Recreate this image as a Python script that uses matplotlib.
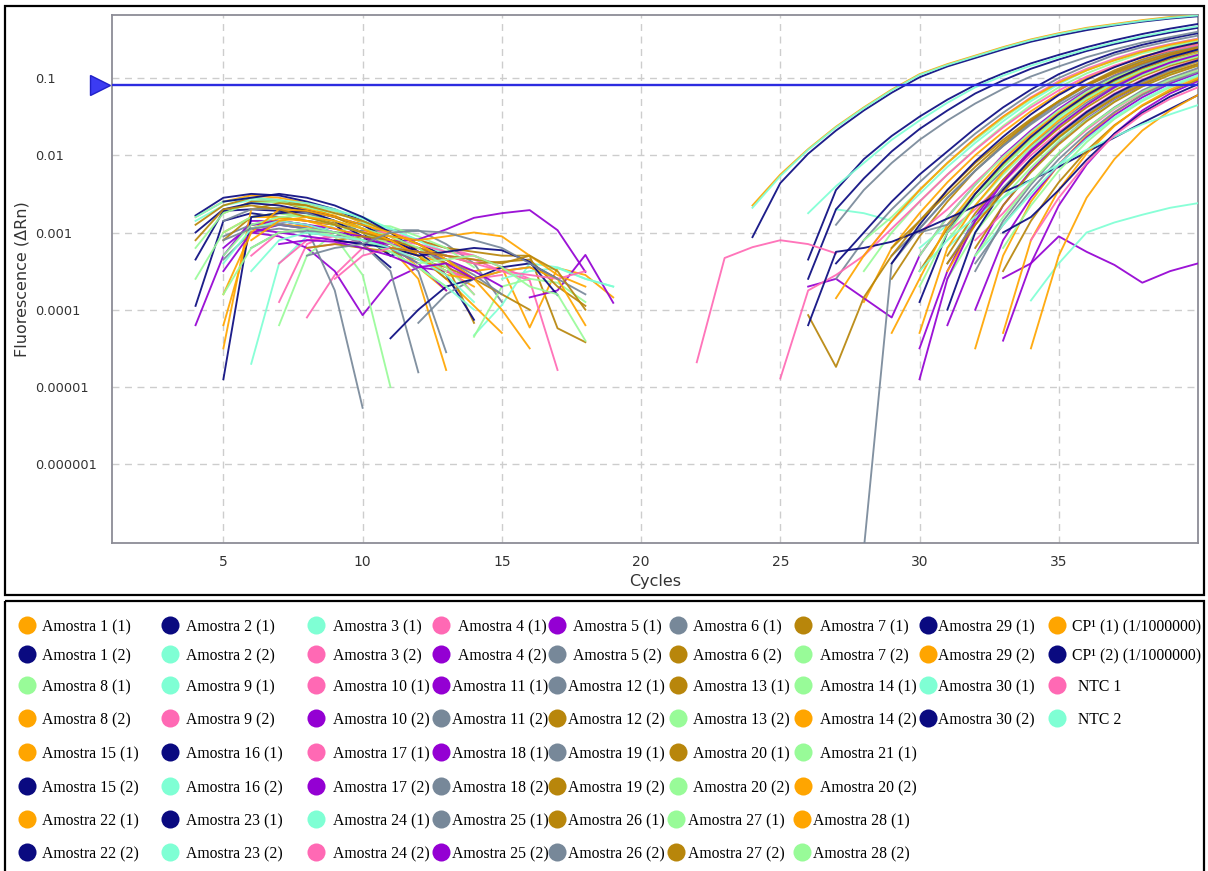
import numpy as np
import matplotlib
matplotlib.use("Agg")
import matplotlib.pyplot as plt
from matplotlib.patches import Rectangle
from matplotlib.ticker import NullLocator
from matplotlib.transforms import blended_transform_factory

# ---------------- data ----------------
cycles = np.arange(1, 41)
threshold = 0.081
x_ticks = [5, 10, 15, 20, 25, 30, 35]
y_ticks = [0.1, 0.01, 0.001, 0.0001, 0.00001, 0.000001]
y_tick_labels = ["0.1", "0.01", "0.001", "0.0001", "0.00001", "0.000001"]

legend_rows = [
    ["Amostra 1 (1)", "Amostra 2 (1)", "Amostra 3 (1)", "Amostra 4 (1)", "Amostra 5 (1)",
     "Amostra 6 (1)", "Amostra 7 (1)", "Amostra 29 (1)", "CP\u00b9 (1) (1/1000000)"],
    ["Amostra 1 (2)", "Amostra 2 (2)", "Amostra 3 (2)", "Amostra 4 (2)", "Amostra 5 (2)",
     "Amostra 6 (2)", "Amostra 7 (2)", "Amostra 29 (2)", "CP\u00b9 (2) (1/1000000)"],
    ["Amostra 8 (1)", "Amostra 9 (1)", "Amostra 10 (1)", "Amostra 11 (1)", "Amostra 12 (1)",
     "Amostra 13 (1)", "Amostra 14 (1)", "Amostra 30 (1)", "NTC 1"],
    ["Amostra 8 (2)", "Amostra 9 (2)", "Amostra 10 (2)", "Amostra 11 (2)", "Amostra 12 (2)",
     "Amostra 13 (2)", "Amostra 14 (2)", "Amostra 30 (2)", "NTC 2"],
    ["Amostra 15 (1)", "Amostra 16 (1)", "Amostra 17 (1)", "Amostra 18 (1)", "Amostra 19 (1)",
     "Amostra 20 (1)", "Amostra 21 (1)"],
    ["Amostra 15 (2)", "Amostra 16 (2)", "Amostra 17 (2)", "Amostra 18 (2)", "Amostra 19 (2)",
     "Amostra 20 (2)", "Amostra 20 (2)"],
    ["Amostra 22 (1)", "Amostra 23 (1)", "Amostra 24 (1)", "Amostra 25 (1)", "Amostra 26 (1)",
     "Amostra 27 (1)", "Amostra 28 (1)"],
    ["Amostra 22 (2)", "Amostra 23 (2)", "Amostra 24 (2)", "Amostra 25 (2)", "Amostra 26 (2)",
     "Amostra 27 (2)", "Amostra 28 (2)"],
]

# colour keys, same layout as legend_rows
O, N, T, P, V, G, D, L = "orange", "navy", "aqua", "pink", "violet", "gray", "gold", "green"
legend_color_keys = [
    [O, N, T, P, V, G, D, N, O],
    [N, T, P, V, G, D, L, O, N],
    [L, T, P, V, G, D, L, T, P],
    [O, P, V, G, D, L, O, N, T],
    [O, N, P, V, G, D, L],
    [N, T, V, G, D, L, O],
    [O, N, T, G, D, L, O],
    [N, T, P, V, G, D, L],
]

# log10(ΔRn), per trace (legend order), early noise part
early_start = [4, 4, 4, 7, 4, 5, 5, 4, None,
               4, 6, 8, 6, 5, 4, 4, 6, None,
               7, 14, 8, 16, 6, 6, 6, 4, None,
               5, 7, 6, 5, 5, 14, 5, 4, None,
               5, 5, 6, 5, 12, 8, 4,
               5, 15, 5, 6, 9, 5, 5,
               10, 11, 5, 5, 4, 5, 6,
               9, 6, 9, 7, 8, 11, 12]
early_log = [
    [-2.8, -2.6, -2.52, -2.55, -2.62, -2.72, -2.88, -3.05, -3.3, -3.5, -3.7],
    [-2.78, -2.55, -2.5, -2.52, -2.6, -2.7, -2.85, -3.0, -3.15, -3.3],
    [-2.85, -2.65, -2.58, -2.6, -2.65, -2.72, -2.8, -2.95, -3.1, -3.25],
    [-3.9, -3.15, -3.0, -2.98, -3.0, -3.1, -3.2, -3.3, -3.45],
    [-4.2, -3.3, -2.85, -2.85, -2.9, -2.95, -3.05, -3.1, -3.25, -3.4],
    [-3.35, -3.0, -2.95, -3.0, -3.05, -2.97, -2.97, -2.97, -3.15, -3.4, -3.9],
    [-2.75, -2.6, -2.6, -2.7, -2.8, -2.95, -3.05, -3.1, -3.2, -3.25, -3.3, -3.3, -4.24, -4.42],
    [-3.95, -2.85, -2.75, -2.8, -2.85, -2.9, -3.15, -3.45],
    [],
    [-3.35, -2.72, -2.7, -2.72, -2.75, -2.85, -3.0, -3.3, -3.2, -3.35],
    [-4.7, -3.4, -3.05, -2.9, -2.88, -2.95, -3.1, -3.3],
    [-4.1, -3.55, -3.2, -3.1, -3.15, -3.25, -3.3, -3.45, -3.6],
    [-3.0, -3.05, -3.2, -3.5, -4.07, -3.62, -3.45, -3.5, -3.6],
    [-3.05, -2.9, -2.88, -2.95, -3.75, -5.27],
    [-2.9, -2.65, -2.55, -2.58, -2.65, -2.8, -2.95, -3.1, -3.3, -3.5],
    [-3.2, -2.75, -2.62, -2.6, -2.68, -2.75, -2.85, -3.0],
    [-2.95, -2.9, -2.92, -3.0, -3.1, -3.2, -3.3, -3.4, -3.5, -3.45, -4.23, -3.46, -3.55, -3.84],
    [],
    [-4.2, -3.3, -3.0, -2.9, -2.92, -3.05, -3.2, -3.45],
    [-4.33, -3.94, -3.4, -3.45, -3.6, -3.7],
    [-3.2, -3.15, -3.1, -3.15, -3.2, -3.3, -3.35, -3.5, -3.62, -4.78],
    [-3.84, -3.75, -3.29, -3.91],
    [-2.9, -2.85, -2.9, -3.0, -3.15, -3.5, -4.81],
    [-2.7, -2.62, -2.65, -2.75, -2.85, -3.0, -3.15, -3.35, -3.6],
    [-2.95, -2.9, -2.95, -3.05, -3.55, -5.0],
    [-2.8, -2.6, -2.55, -2.58, -2.62, -2.7, -2.82, -2.95],
    [],
    [-4.5, -2.7, -2.68, -2.7, -2.78, -2.95, -3.1, -3.3, -3.6, -3.95, -4.3],
    [-3.4, -3.1, -3.05, -3.1, -3.15, -3.2, -3.4, -3.8],
    [-2.95, -3.0, -3.05, -3.1, -3.15, -3.12, -3.09, -2.96, -2.81, -2.75, -2.71, -2.97, -3.51],
    [-2.85, -2.7, -2.68, -2.75, -2.85, -3.0, -3.2, -3.5, -4.55],
    [-3.1, -2.8, -2.75, -2.8, -2.88, -3.0, -3.1, -3.2, -3.4, -4.17],
    [-4.35, -3.7, -3.6, -3.65, -3.9],
    [-4.2, -2.95, -2.82, -2.85, -2.9, -3.0, -3.15, -3.45, -3.75],
    [-3.0, -2.7, -2.62, -2.65, -2.72, -2.85, -3.05, -3.3],
    [],
    [-3.0, -2.8, -2.8, -2.85, -2.95, -3.05, -3.2, -3.6, -4.78],
    [-2.6, -2.55, -2.5, -2.55, -2.65, -2.8, -3.0, -3.25, -3.55, -4.13],
    [-3.3, -3.0, -2.95, -3.0, -3.1, -3.2, -3.35, -3.5, -3.6, -3.55],
    [-3.2, -2.9, -2.85, -2.9, -3.0, -3.1, -3.15, -3.25, -3.35, -3.5, -3.7],
    [-4.17, -3.8, -3.6, -3.5, -3.45, -3.6],
    [-3.2, -3.15, -3.2, -3.25, -3.35, -3.45, -3.6, -3.8, -4.0],
    [-3.6, -3.0, -2.8, -2.75, -2.8, -2.9, -3.0, -3.15, -3.3, -3.5],
    [-4.9, -2.8, -2.75, -2.72, -2.8, -2.9, -3.1, -3.25],
    [-3.6, -3.5, -3.46, -3.6, -3.7],
    [-3.5, -3.0, -2.9, -2.95, -3.0, -3.05, -3.2, -3.4, -3.75],
    [-3.2, -3.0, -2.98, -3.0, -3.1, -3.2, -3.25, -3.35, -3.55, -3.8],
    [-3.1, -3.05, -3.1, -3.2, -3.3, -3.4, -3.38, -3.35, -3.7, -3.95],
    [-3.3, -2.9, -2.8, -2.78, -2.85, -2.95, -3.05, -3.2, -3.45, -3.8],
    [-3.8, -3.0, -2.7, -2.72, -2.8, -2.9, -3.0, -3.15, -3.35, -3.6, -4.0, -4.5],
    [-3.0, -3.05, -3.1, -3.05, -3.0, -3.05, -3.3, -3.55, -3.7],
    [-4.37, -4.0, -3.7, -3.6, -3.45, -3.4, -3.6],
    [-3.4, -2.95, -2.85, -2.9, -3.0, -3.1, -3.25, -3.45, -3.7, -4.0],
    [-3.1, -2.95, -2.9, -2.95, -3.0, -3.1, -3.2, -3.4],
    [-3.1, -2.7, -2.65, -2.7, -2.8, -2.9, -3.0, -3.1, -3.3, -3.6],
    [-3.8, -3.2, -3.0, -2.95, -3.0, -3.1, -3.25, -3.45, -3.7],
    [-3.1, -2.85, -2.8, -2.85, -2.95, -3.1, -3.3, -3.55, -3.6, -3.5, -3.45, -3.6, -4.2],
    [-3.1, -3.15, -3.2, -3.3, -3.25, -3.2, -3.23, -3.38, -3.81],
    [-3.5, -3.1, -3.0, -3.05, -3.1, -3.2, -3.35, -3.55, -3.9],
    [-3.6, -3.3, -3.2, -3.25, -3.3, -3.4, -3.5, -3.55, -3.6, -3.5],
    [-3.15, -3.1, -3.12, -3.2, -3.3, -3.45, -3.4, -3.6],
    [-3.3, -3.2, -3.15, -3.0, -2.98, -3.0, -3.1, -3.2, -3.4, -3.6, -3.8],
    [-3.2, -3.25, -3.3, -3.35, -3.4, -3.3, -3.5, -4.0],
    [-3.4, -3.35, -3.3, -3.45, -3.7, -3.8, -4.4],
]

# log10(ΔRn), per trace (legend order), late / amplification part
late_start = [28, 26, 27, 28, 26, 27, 29, 26, 24,
              27, 30, 30, 30, 29, 30, 28, 29, 24,
              30, 31, 31, 31, 30, 31, 31, 24, 22,
              30, 25, 33, 28, 26, 31, 31, 26, 34,
              32, 29, 32, 32, 31, 32, 33,
              30, 26, 33, 32, 33, 28, 33,
              34, 31, 30, 27, 29, 30, 27,
              33, 32, 34, 30, 32, 31, 32]
late_log = [
    [-3.9, -3.2, -2.75, -2.35, -2.0, -1.7, -1.43, -1.2, -1.0, -0.85, -0.72, -0.63, -0.55],
    [-3.35, -2.45, -2.05, -1.75, -1.5, -1.28, -1.09, -0.94, -0.81, -0.7, -0.6, -0.51, -0.43, -0.36, -0.3],
    [-2.7, -2.75, -2.85, -2.5, -2.15, -1.84, -1.56, -1.3, -1.08, -0.9, -0.76, -0.65, -0.56, -0.49],
    [-3.3, -2.85, -2.45, -2.1, -1.78, -1.5, -1.25, -1.04, -0.88, -0.75, -0.64, -0.56, -0.49],
    [-3.7, -3.6, -3.85, -4.1, -3.3, -2.8, -2.38, -2.0, -1.68, -1.4, -1.16, -0.97, -0.82, -0.7, -0.6],
    [-3.6, -3.1, -2.7, -2.35, -2.02, -1.72, -1.45, -1.2, -1.0, -0.84, -0.7, -0.6, -0.52, -0.45],
    [-3.6, -3.05, -2.6, -2.2, -1.86, -1.56, -1.3, -1.08, -0.9, -0.76, -0.65, -0.56],
    [-3.6, -2.7, -2.3, -1.95, -1.66, -1.42, -1.2, -1.03, -0.88, -0.76, -0.65, -0.56, -0.48, -0.41, -0.35],
    [-2.65, -2.25, -1.92, -1.63, -1.38, -1.15, -0.95, -0.82, -0.71, -0.6, -0.5, -0.42, -0.35, -0.3, -0.25, -0.21, -0.19],
    [-3.4, -3.0, -2.6, -2.25, -1.95, -1.65, -1.38, -1.15, -0.95, -0.8, -0.67, -0.57, -0.49, -0.42],
    [-3.2, -2.9, -2.5, -2.15, -1.82, -1.53, -1.28, -1.07, -0.9, -0.77, -0.67],
    [-3.0, -2.7, -2.35, -2.02, -1.72, -1.45, -1.21, -1.02, -0.86, -0.74, -0.64],
    [-4.5, -3.5, -2.8, -2.32, -1.93, -1.6, -1.33, -1.11, -0.93, -0.79, -0.69],
    [-3.3, -2.95, -2.55, -2.2, -1.88, -1.58, -1.32, -1.1, -0.92, -0.78, -0.67, -0.58],
    [-3.5, -2.95, -2.5, -2.12, -1.78, -1.49, -1.24, -1.04, -0.88, -0.75, -0.65],
    [-3.5, -3.0, -2.6, -2.25, -1.92, -1.62, -1.35, -1.12, -0.94, -0.8, -0.68, -0.6, -0.52],
    [-4.3, -3.6, -2.9, -2.45, -2.06, -1.73, -1.44, -1.2, -1.0, -0.84, -0.72, -0.62],
    [-3.06, -2.36, -1.98, -1.68, -1.42, -1.19, -0.99, -0.85, -0.74, -0.63, -0.53, -0.45, -0.38, -0.32, -0.27, -0.23, -0.2],
    [-3.3, -2.8, -2.38, -2.02, -1.7, -1.42, -1.18, -0.99, -0.84, -0.72, -0.63],
    [-3.2, -2.85, -2.45, -2.1, -1.78, -1.5, -1.27, -1.08, -0.93, -0.81],
    [-3.0, -2.7, -2.35, -2.0, -1.7, -1.43, -1.2, -1.02, -0.87, -0.76],
    [-4.2, -3.3, -2.65, -2.2, -1.83, -1.53, -1.29, -1.1, -0.94, -0.82],
    [-3.0, -2.9, -2.55, -2.2, -1.87, -1.58, -1.32, -1.1, -0.93, -0.79, -0.68],
    [-3.3, -2.75, -2.32, -1.96, -1.65, -1.38, -1.16, -0.98, -0.84, -0.74],
    [-3.1, -2.65, -2.25, -1.9, -1.6, -1.34, -1.13, -0.96, -0.82, -0.72],
    [-2.68, -2.27, -1.93, -1.64, -1.39, -1.16, -0.96, -0.83, -0.72, -0.61, -0.51, -0.43, -0.36, -0.31, -0.26, -0.22, -0.19],
    [-4.68, -3.33, -3.19, -3.1, -3.15, -3.27],
    [-4.3, -3.2, -2.65, -2.22, -1.86, -1.55, -1.29, -1.08, -0.91, -0.78, -0.68],
    [-4.89, -3.75, -3.55, -3.3, -2.95, -2.6, -2.25, -1.93, -1.64, -1.38, -1.16, -0.98, -0.84, -0.73, -0.64, -0.57],
    [-3.59, -3.4, -3.05, -3.25, -3.42, -3.65, -3.5, -3.4],
    [-7.1, -3.4, -2.95, -2.55, -2.2, -1.88, -1.6, -1.35, -1.14, -0.97, -0.83, -0.72, -0.63],
    [-4.07, -4.74, -3.84, -3.3, -2.85, -2.45, -2.1, -1.8, -1.53, -1.3, -1.1, -0.94, -0.81, -0.7, -0.62],
    [-3.6, -3.0, -2.55, -2.16, -1.82, -1.54, -1.3, -1.11, -0.95, -0.83],
    [-3.5, -2.9, -2.45, -2.08, -1.76, -1.48, -1.25, -1.06, -0.91, -0.79],
    [-4.2, -3.25, -3.2, -3.12, -2.98, -2.82, -2.66, -2.48, -2.32, -2.15, -1.96, -1.77, -1.58, -1.4, -1.22],
    [-3.88, -3.4, -3.0, -2.87, -2.77, -2.68, -2.62],
    [-4.5, -3.3, -2.6, -2.12, -1.75, -1.45, -1.21, -1.03, -0.9],
    [-3.4, -2.9, -2.45, -2.08, -1.76, -1.47, -1.22, -1.02, -0.86, -0.73, -0.62, -0.54],
    [-3.1, -2.75, -2.35, -1.98, -1.67, -1.4, -1.19, -1.02, -0.89],
    [-4.0, -3.1, -2.55, -2.12, -1.77, -1.48, -1.25, -1.07, -0.94],
    [-3.4, -2.85, -2.42, -2.05, -1.73, -1.46, -1.23, -1.05, -0.9, -0.78],
    [-3.2, -2.65, -2.22, -1.86, -1.56, -1.31, -1.11, -0.96, -0.84],
    [-3.2, -2.65, -2.2, -1.83, -1.53, -1.3, -1.12, -0.98],
    [-3.9, -3.0, -2.5, -2.1, -1.76, -1.47, -1.22, -1.02, -0.86, -0.73, -0.63],
    [-2.75, -2.4, -2.1, -1.8, -1.55, -1.32, -1.12, -0.97, -0.84, -0.73, -0.63, -0.54, -0.46, -0.39, -0.33],
    [-4.4, -3.4, -2.65, -2.12, -1.72, -1.42, -1.2, -1.04],
    [-3.4, -2.9, -2.45, -2.05, -1.72, -1.44, -1.22, -1.05, -0.92],
    [-3.5, -2.85, -2.35, -1.94, -1.61, -1.36, -1.17, -1.02],
    [-3.1, -2.8, -2.45, -2.1, -1.8, -1.52, -1.27, -1.06, -0.9, -0.77, -0.66, -0.58, -0.51],
    [-4.3, -3.1, -2.45, -1.98, -1.62, -1.35, -1.15, -1.0],
    [-4.5, -3.3, -2.55, -2.05, -1.68, -1.42, -1.22],
    [-4.0, -3.0, -2.45, -2.05, -1.72, -1.44, -1.21, -1.03, -0.88, -0.77],
    [-3.5, -3.1, -2.8, -2.55, -2.32, -2.12, -1.93, -1.76, -1.6, -1.47, -1.35],
    [-2.9, -2.45, -2.1, -1.8, -1.55, -1.33, -1.14, -0.98, -0.85, -0.73, -0.63, -0.54, -0.47, -0.4],
    [-3.2, -2.85, -2.5, -2.15, -1.83, -1.55, -1.3, -1.09, -0.92, -0.79, -0.68, -0.6],
    [-3.7, -3.0, -2.55, -2.15, -1.8, -1.5, -1.26, -1.06, -0.9, -0.78, -0.69],
    [-3.85, -3.3, -2.85, -2.45, -2.1, -1.78, -1.5, -1.26, -1.06, -0.9, -0.77, -0.66, -0.57, -0.5],
    [-3.0, -2.8, -2.45, -2.06, -1.72, -1.45, -1.24, -1.08],
    [-3.3, -2.9, -2.5, -2.12, -1.79, -1.51, -1.28, -1.1, -0.96],
    [-3.1, -2.55, -2.1, -1.74, -1.47, -1.27, -1.12],
    [-4.9, -3.6, -2.85, -2.35, -1.95, -1.62, -1.35, -1.12, -0.94, -0.8, -0.7],
    [-3.5, -2.85, -2.38, -1.98, -1.65, -1.38, -1.16, -1.0, -0.87],
    [-3.4, -2.9, -2.48, -2.1, -1.77, -1.49, -1.26, -1.08, -0.93, -0.82],
    [-3.3, -2.8, -2.35, -1.97, -1.65, -1.39, -1.18, -1.02, -0.9],
]

# ---------------- style ----------------
palette = {
    "orange": "#FFA500", "navy": "#0A0A80", "aqua": "#7FFFD4", "pink": "#FF69B4",
    "violet": "#9400D3", "gray": "#778899", "gold": "#B8860B", "green": "#98FB98",
}

W, H, DPI = 1208, 871, 100
fig = plt.figure(figsize=(W / DPI, H / DPI), dpi=DPI)

# page-level layer (frames + legend), in pixel coordinates
bg = fig.add_axes([0, 0, 1, 1])
bg.set_xlim(0, W)
bg.set_ylim(H, 0)
bg.axis("off")
bg.add_patch(Rectangle((5, 6), 1199, 589, fill=False, ec="black", lw=1.6))
bg.add_patch(Rectangle((5, 601), 1199, 300, fill=False, ec="black", lw=1.6, clip_on=True))

# ---------------- chart ----------------
ax = fig.add_axes([112 / W, 1 - 543 / H, (1198 - 112) / W, (543 - 15) / H])
ax.set_yscale("log")
ax.set_xlim(1, 40)
ax.set_ylim(10 ** -7.02, 10 ** -0.184)

flat_keys = [k for row in legend_color_keys for k in row]
for i in range(len(flat_keys)):
    full = np.full(len(cycles), np.nan)
    if early_start[i] is not None and early_log[i]:
        s = early_start[i] - 1
        full[s:s + len(early_log[i])] = early_log[i]
    if late_start[i] is not None and late_log[i]:
        s = late_start[i] - 1
        full[s:s + len(late_log[i])] = late_log[i]
    ax.plot(cycles, 10.0 ** full, color=palette[flat_keys[i]], lw=1.35, alpha=0.92,
            solid_joinstyle="round", zorder=3)

ax.axhline(threshold, color="#2c2ce0", lw=1.7, zorder=4)
tr = blended_transform_factory(ax.transAxes, ax.transData)
ax.plot([-0.011], [threshold], marker=">", ms=15, color="#3b3bf2", mec="#2020c8",
        mew=1.0, transform=tr, clip_on=False, zorder=5)

ax.set_xticks(x_ticks)
ax.set_yticks(y_ticks)
ax.set_yticklabels(y_tick_labels, ha="left")
ax.yaxis.set_minor_locator(NullLocator())
ax.grid(True, which="major", ls=(0, (5, 4)), color="#cdcdcd", lw=1.0, zorder=1)
ax.tick_params(axis="both", length=0, labelcolor="#333333")
ax.tick_params(axis="y", pad=55.4, labelsize=9.3)
ax.tick_params(axis="x", pad=9, labelsize=10)
for sp in ax.spines.values():
    sp.set_color("#8c8c96")
    sp.set_linewidth(1.3)

ax.set_xlabel("Cycles", fontsize=11.5, color="#333333", labelpad=3)
ax.set_ylabel("Fluorescence (\u0394Rn)", fontsize=11.5, color="#333333")
ax.yaxis.set_label_coords(-0.076, 0.5)

# ---------------- legend ----------------
circle_x_a = [27, 170, 316, 441, 557, 678, 803, 928, 1057]
text_x_a = [42, 186, 333, 458, 573, 693, 820, 938, 1072]
circle_x_b = [27, 170, 316, 441, 557, 678, 803, 928, 1057]
text_x_b = [42, 186, 333, 452, 568, 693, 820, 938, 1078]
circle_x_c = [27, 170, 316, 441, 557, 676, 802]
text_x_c = [42, 186, 333, 452, 568, 688, 813]
row_y = [627, 656, 687, 720, 754, 788, 821, 854]

for r, (names, keys) in enumerate(zip(legend_rows, legend_color_keys)):
    if r < 2:
        cx, tx = circle_x_a, text_x_a
    elif r < 6:
        cx, tx = circle_x_b, text_x_b
    else:
        cx, tx = circle_x_c, text_x_c
    for c, (name, key) in enumerate(zip(names, keys)):
        bg.plot([cx[c]], [row_y[r] - 2], marker="o", ms=13, color=palette[key], mec="none")
        bg.text(tx[c], row_y[r], name, fontsize=11.3, family="Liberation Serif",
                va="center", ha="left", color="black")

fig.savefig("out.png", dpi=DPI)
